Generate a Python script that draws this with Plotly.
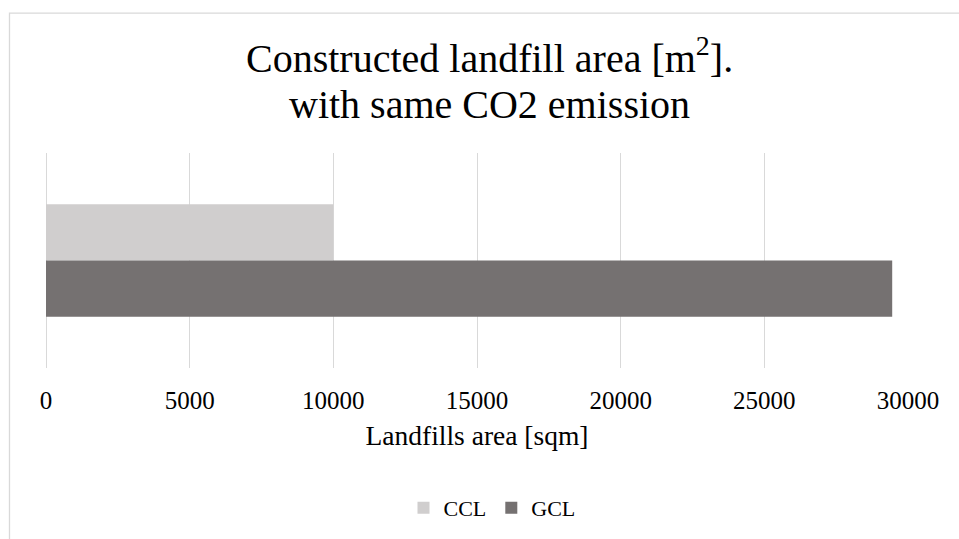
import plotly.graph_objects as go

# Data
category = ["Landfill"]
series_names = ["CCL", "GCL"]
ccl_area = [10000]
gcl_area = [29450]
x_ticks = [0, 5000, 10000, 15000, 20000, 25000, 30000]
title_lines = ["Constructed landfill area [m<sup>2</sup>].", "with same CO2 emission"]

colors = {"CCL": "#D0CECE", "GCL": "#757171"}
FONT = "Liberation Serif"

fig = go.Figure()
for name, vals in zip(series_names, [ccl_area, gcl_area]):
    fig.add_trace(go.Bar(
        y=category, x=vals, name=name, orientation="h",
        marker=dict(color=colors[name], line=dict(width=0)),
    ))

W, H = 959, 539
L, R, T, B = 46, 51, 153, 170
pw, ph = W - L - R, H - T - B

def px_to_paper_x(px):
    return (px - L) / pw

def px_to_paper_y(py):
    return (H - B - py) / ph

# Two-line chart title, placed as annotations for tighter line spacing
title_annotations = [
    dict(text=line, x=px_to_paper_x(490), y=px_to_paper_y(yc),
         xref="paper", yref="paper", xanchor="center", yanchor="middle",
         showarrow=False, font=dict(family=FONT, size=40, color="#000000"))
    for line, yc in zip(title_lines, [55, 104])
]

fig.update_layout(
    width=W, height=H,
    margin=dict(l=L, r=R, t=T, b=B),
    paper_bgcolor="white", plot_bgcolor="white",
    barmode="group", bargap=0.477, bargroupgap=0,
    font=dict(family=FONT, color="#000000"),
    annotations=title_annotations,
    xaxis=dict(
        range=[0, 30000], tickvals=x_ticks,
        ticktext=[str(v) for v in x_ticks],
        showgrid=True, gridcolor="#D9D9D9", gridwidth=1.3,
        zeroline=True, zerolinecolor="#D9D9D9", zerolinewidth=1.3,
        showline=False, ticks="", ticklabelstandoff=15,
        tickfont=dict(family=FONT, size=25, color="#000000"),
        title=dict(text="Landfills area [sqm]", standoff=12,
                   font=dict(family=FONT, size=27.5, color="#000000")),
    ),
    yaxis=dict(
        autorange="reversed", showticklabels=False, showgrid=False,
        zeroline=False, showline=False, ticks="",
    ),
    legend=dict(
        orientation="h", x=px_to_paper_x(492), xanchor="center",
        y=px_to_paper_y(508), yanchor="middle",
        font=dict(family=FONT, size=22, color="#000000"),
        itemwidth=30, traceorder="normal",
    ),
    shapes=[dict(
        type="rect", xref="paper", yref="paper",
        x0=px_to_paper_x(9.5), x1=px_to_paper_x(975),
        y0=px_to_paper_y(560), y1=px_to_paper_y(12.5),
        line=dict(color="#D9D9D9", width=1.3), fillcolor="rgba(0,0,0,0)",
        layer="below",
    )],
)

fig.write_html("out.html")
